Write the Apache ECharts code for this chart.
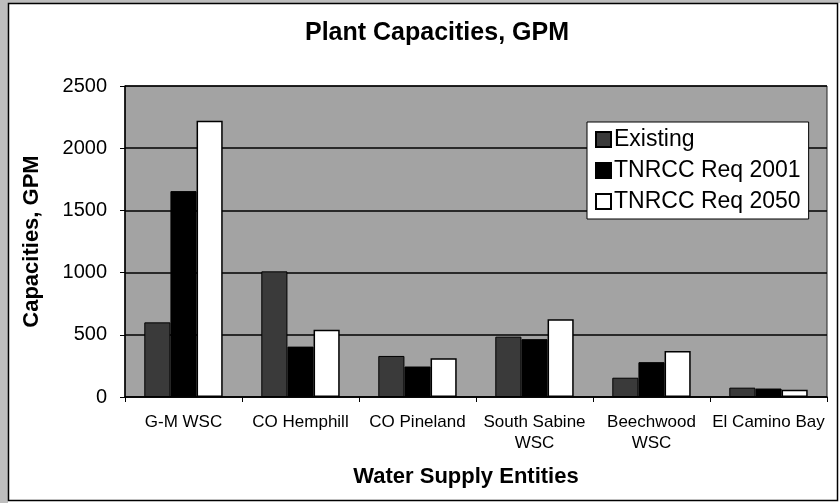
<!DOCTYPE html>
<html>
<head>
<meta charset="utf-8">
<title>Plant Capacities, GPM</title>
<script src="https://cdn.jsdelivr.net/npm/echarts@6/dist/echarts.min.js"></script>
<style>
  html, body { margin: 0; padding: 0; background: #fff; }
  #chart { width: 840px; height: 503px; }
</style>
</head>
<body>
<div id="chart"></div>
<script>
// categories + values
const entities = ['G-M WSC', 'CO Hemphill', 'CO Pineland', 'South Sabine\nWSC', 'Beechwood\nWSC', 'El Camino Bay']
const existing = [600, 1010, 330, 485, 155, 75]
const req2001 = [1655, 405, 245, 465, 280, 68]
const req2050 = [2220, 540, 312, 625, 370, 58]
const yTicks = [0, 500, 1000, 1500, 2000, 2500]

const FONT = '"Liberation Sans", Arial, sans-serif'

const chart = echarts.init(document.getElementById('chart'))

const option = {
  backgroundColor: '#fff',
  textStyle: { fontFamily: FONT, color: '#000' },
  title: {
    text: 'Plant Capacities, GPM',
    left: 300,
    top: 16,
    textStyle: { fontSize: 25, fontWeight: 'bold', color: '#000', fontFamily: FONT }
  },
  graphic: [
    // scanned page edge + chart frame
    { type: 'rect', shape: { x: 0, y: 0, width: 8, height: 503 }, style: { fill: '#bdbdbd' }, silent: true },
    { type: 'rect', shape: { x: 0, y: 0, width: 840, height: 3 }, style: { fill: '#bdbdbd' }, silent: true },
    { type: 'rect', shape: { x: 8.5, y: 3.5, width: 829, height: 497 }, style: { fill: 'none', stroke: '#000', lineWidth: 1.5 }, silent: true }
  ],
  legend: {
    orient: 'vertical',
    left: 587,
    top: 122,
    padding: [6, 8, 6, 8],
    itemGap: 8,
    itemWidth: 15,
    itemHeight: 15,
    icon: 'rect',
    backgroundColor: '#fff',
    borderColor: '#000',
    borderWidth: 1,
    textStyle: { fontSize: 23, color: '#000', fontFamily: FONT, padding: [0, 0, 0, -2] },
    data: ['Existing', 'TNRCC Req 2001', 'TNRCC Req 2050']
  },
  grid: {
    left: 125,
    right: 13,
    top: 86,
    bottom: 106,
    show: true,
    backgroundColor: '#a3a3a3',
    borderColor: '#222',
    borderWidth: 1
  },
  xAxis: {
    type: 'category',
    data: entities,
    name: 'Water Supply Entities',
    nameLocation: 'middle',
    nameGap: 69,
    nameTextStyle: { fontSize: 22, fontWeight: 'bold', color: '#000', padding: [0, 20, 0, 0] },
    axisLine: { lineStyle: { color: '#000', width: 1.5 } },
    axisTick: { show: true, length: 5, lineStyle: { color: '#000' } },
    axisLabel: { interval: 0, fontSize: 17, lineHeight: 21, margin: 15, color: '#000' }
  },
  yAxis: {
    type: 'value',
    min: yTicks[0],
    max: yTicks[yTicks.length - 1],
    interval: 500,
    name: 'Capacities, GPM',
    nameLocation: 'middle',
    nameGap: 82,
    nameTextStyle: { fontSize: 22, fontWeight: 'bold', color: '#000' },
    axisLine: { show: true, lineStyle: { color: '#000', width: 1.5 } },
    axisTick: { show: true, length: 5, lineStyle: { color: '#000' } },
    axisLabel: { fontSize: 20, margin: 18, color: '#000', formatter: v => String(v) },
    splitLine: { lineStyle: { color: '#000', width: 1.5 } }
  },
  series: [
    {
      name: 'Existing',
      type: 'bar',
      data: existing,
      barGap: '0%',
      barCategoryGap: '33%',
      itemStyle: { color: '#3a3a3a', borderColor: '#000', borderWidth: 1 }
    },
    {
      name: 'TNRCC Req 2001',
      type: 'bar',
      data: req2001,
      itemStyle: { color: '#000', borderColor: '#000', borderWidth: 1 }
    },
    {
      name: 'TNRCC Req 2050',
      type: 'bar',
      data: req2050,
      itemStyle: { color: '#fff', borderColor: '#000', borderWidth: 1.5 }
    }
  ]
}

chart.setOption(option)
</script>
</body>
</html>
